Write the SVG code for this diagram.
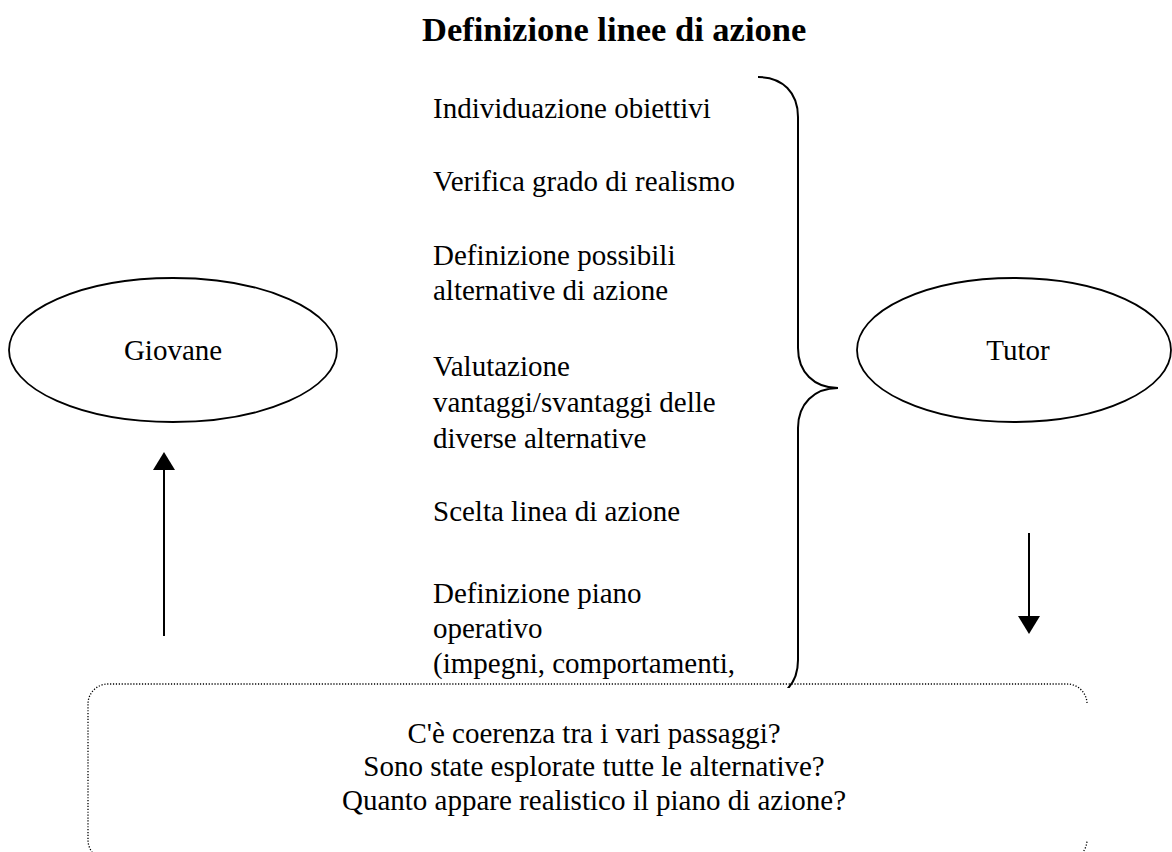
<svg xmlns="http://www.w3.org/2000/svg" width="1172" height="852" viewBox="0 0 1172 852">
<style>
.t{font-family:"Liberation Serif","Times New Roman",serif;font-size:29px;fill:#000}
.title{font-family:"Liberation Serif","Times New Roman",serif;font-size:34.5px;font-weight:bold;fill:#000}
.node{fill:#fff;stroke:#000;stroke-width:1.8}
.line{fill:none;stroke:#000;stroke-width:2}
.dot{fill:none;stroke:#000;stroke-width:1.3;stroke-dasharray:1.2 1.7}
</style>
<defs>
<marker id="ah" viewBox="0 0 18 22" refX="0" refY="11" markerWidth="18" markerHeight="22" markerUnits="userSpaceOnUse" orient="auto">
<path d="M0,0 L18,11 L0,22 Z" fill="#000"/>
</marker>
<clipPath id="bclip"><rect x="700" y="60" width="200" height="628"/></clipPath>
</defs>
<rect width="1172" height="852" fill="#fff"/>
<text id="title" class="title" x="422" y="41">Definizione linee di azione</text>
<g id="steps" class="t">
<text x="433" y="118">Individuazione obiettivi</text>
<text x="433" y="191">Verifica grado di realismo</text>
<text x="433" y="265">Definizione possibili</text>
<text x="433" y="300">alternative di azione</text>
<text x="433" y="376">Valutazione</text>
<text x="433" y="412">vantaggi/svantaggi delle</text>
<text x="433" y="448">diverse alternative</text>
<text x="433" y="521">Scelta linea di azione</text>
<text x="433" y="603">Definizione piano</text>
<text x="433" y="638">operativo</text>
<text x="433" y="673">(impegni, comportamenti,</text>
</g>
<g id="brace" clip-path="url(#bclip)">
<path class="line" d="M758 77 C783 77 798 93 798 117 V348 C798 372 814 388 838 388 C814 388 798 404 798 428 V660 C798 684 783 700 758 700"/>
</g>
<g id="giovane">
<ellipse class="node" cx="173" cy="350" rx="164" ry="72"/>
<text class="t" x="173" y="360" text-anchor="middle">Giovane</text>
</g>
<g id="tutor">
<ellipse class="node" cx="1014" cy="350" rx="157" ry="72"/>
<text class="t" x="1018" y="360" text-anchor="middle">Tutor</text>
</g>
<g id="connectors">
<line class="line" x1="164" y1="636" x2="164" y2="470" marker-end="url(#ah)"/>
<line class="line" x1="1029" y1="533" x2="1029" y2="616" marker-end="url(#ah)"/>
</g>
<g id="questions">
<path class="dot" d="M1087 703 A20 20 0 0 0 1067 684 H108 A20 20 0 0 0 88 704 V840 A20 20 0 0 0 108 860 H1067 A20 20 0 0 0 1087 840"/>
<text class="t" x="594" y="743" text-anchor="middle">C'è coerenza tra i vari passaggi?</text>
<text class="t" x="594" y="776" text-anchor="middle">Sono state esplorate tutte le alternative?</text>
<text class="t" x="594" y="810" text-anchor="middle">Quanto appare realistico il piano di azione?</text>
</g>
</svg>
